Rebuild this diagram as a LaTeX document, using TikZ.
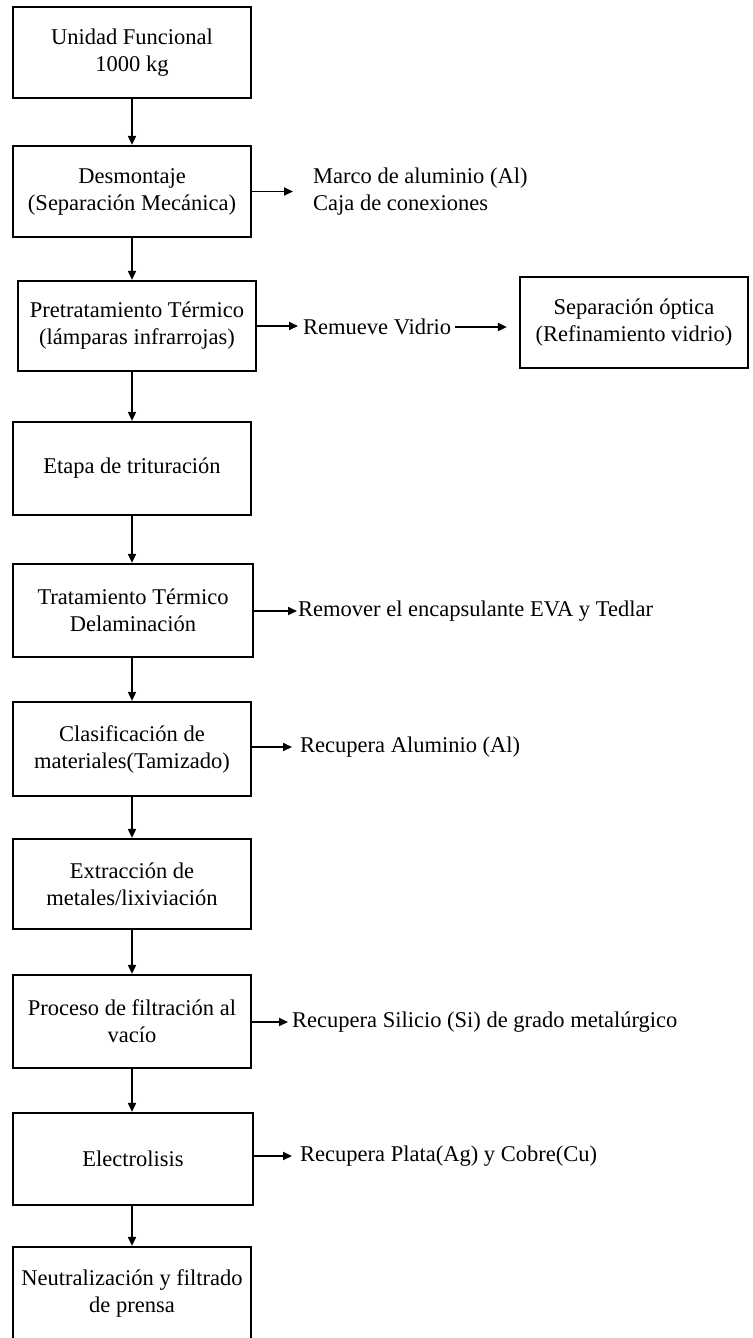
\documentclass[tikz,border=0pt]{standalone}
\usepackage{fontspec}
\setmainfont{Liberation Serif}
\usetikzlibrary{arrows.meta}
\begin{document}
\begin{tikzpicture}[x=1pt,y=-1pt,
  every node/.style={font=\fontsize{22.5}{27}\selectfont},
  stage/.style={draw,line width=2.2pt,align=center,minimum width=238pt,minimum height=92pt,inner sep=2pt},
  outtext/.style={anchor=west,align=left,inner sep=0pt},
  flow/.style={line width=1.8pt,-{Triangle[length=9pt,width=8pt]}}]
\useasboundingbox (0,0) rectangle (752,1338);

% main process column
\node[stage,minimum height=91pt] (b1) at (132,52.5) {Unidad Funcional\\1000 kg};
\node[stage,minimum height=91pt] (b2) at (132,191.5) {Desmontaje\\(Separación Mecánica)};
\node[stage,minimum height=90pt] (b3) at (137,326) {Pretratamiento Térmico\\(lámparas infrarrojas)};
\node[stage,minimum height=93pt] (b4) at (132,468.5) {Etapa de trituración};
\node[stage,minimum width=240pt,minimum height=93pt] (b5) at (133,610.5) {Tratamiento Térmico\\Delaminación};
\node[stage,minimum height=94pt] (b6) at (132,749) {Clasificación de\\materiales(Tamizado)};
\node[stage,minimum height=90pt] (b7) at (132,884) {Extracción de\\metales/lixiviación};
\node[stage,minimum height=93pt] (b8) at (132,1021.5) {Proceso de filtración al\\vacío};
\node[stage,minimum width=240pt,minimum height=92pt] (b9) at (133,1159) {Electrolisis};
\node[stage,minimum height=93pt] (b10) at (132,1293.5) {Neutralización y filtrado\\de prensa};

% side outputs
\node[outtext] (o2) at (313,192) {Marco de aluminio (Al)\\Caja de conexiones};
\node[outtext] (o3) at (303,327) {Remueve Vidrio};
\node[stage,minimum width=228pt,minimum height=91pt] (sep) at (634,322.5) {Separación óptica\\(Refinamiento vidrio)};
\node[outtext] (o5) at (298,611) {Remover el encapsulante EVA y Tedlar};
\node[outtext] (o6) at (300,747) {Recupera Aluminio (Al)};
\node[outtext] (o8) at (292,1022) {Recupera Silicio (Si) de grado metalúrgico};
\node[outtext] (o9) at (300,1156) {Recupera Plata(Ag) y Cobre(Cu)};

% vertical flow
\draw[flow] (b1.south) -- (b2.north);
\draw[flow] (b2.south) -- (b2.south |- b3.north);
\draw[flow] (b2.south |- b3.south) -- (b4.north);
\draw[flow] (b4.south) -- (b4.south |- b5.north);
\draw[flow] (b4.south |- b5.south) -- (b6.north);
\draw[flow] (b6.south) -- (b7.north);
\draw[flow] (b7.south) -- (b8.north);
\draw[flow] (b8.south) -- (b8.south |- b9.north);
\draw[flow] (b8.south |- b9.south) -- (b10.north);

% horizontal outputs
\draw[flow,shorten >=20pt] (b2.east) -- (b2.east -| o2.west);
\draw[flow,shorten >=5pt] (b3.east) -- (b3.east -| o3.west);
\draw[flow,shorten <=4pt,shorten >=12pt] (o3.east) -- (o3.east -| sep.west);
\draw[flow,shorten >=1pt] (b5.east |- o5.west) -- (o5.west);
\draw[flow,shorten >=8pt] (b6.east |- o6.west) -- (o6.west);
\draw[flow,shorten >=4pt] (b8.east |- o8.west) -- (o8.west);
\draw[flow,shorten >=8pt] (b9.east |- o9.west) -- (o9.west);
\end{tikzpicture}
\end{document}
